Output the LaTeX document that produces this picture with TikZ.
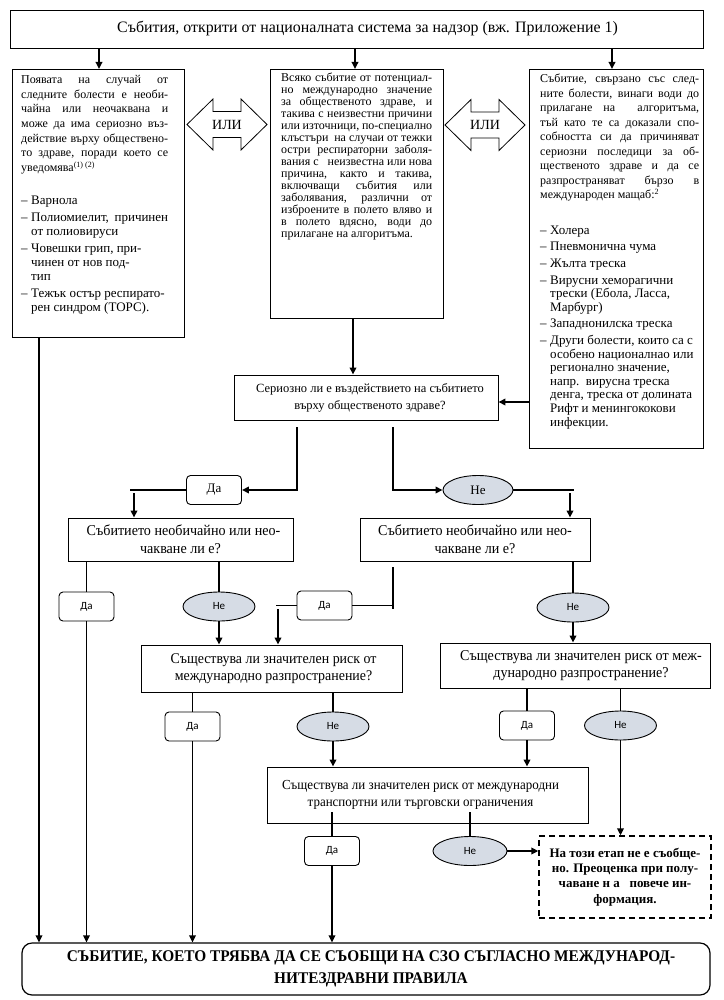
\documentclass[tikz,border=0pt]{standalone}
\usepackage{fontspec}
\setmainfont{Liberation Serif}
\newfontfamily\cond[FakeStretch=0.94]{Liberation Serif}
\newfontfamily\sanslbl{Carlito}
\usetikzlibrary{arrows.meta,calc,shapes.geometric}
\definecolor{negray}{RGB}{214,220,229}
\newcommand\jl[1]{\hbox to\hsize{\spaceskip=0pt\xspaceskip=0pt #1}}
\newcommand\rl[1]{\hbox{#1}}
\newcommand\dl{\hbox to 10pt{–\hss}}
\newcommand\ind{\kern10pt}
\tikzset{
  box/.style={draw, line width=0.9pt, fill=white, inner sep=0pt},
  tx/.style={anchor=north west, inner sep=0pt, text width=#1, align=justify},
  ln/.style={line width=1.7pt},
  arr/.style={line width=1.7pt, -{Triangle[length=7pt,width=6.5pt]}},
  dabox/.style={draw, line width=0.9pt, fill=white, rounded corners=4pt, minimum width=55pt, minimum height=29pt, inner sep=0pt, font=\fontsize{11}{13}\selectfont\sanslbl},
  nebox/.style={ellipse, draw, fill=negray, line width=0.9pt, minimum width=72pt, minimum height=29pt, inner sep=0pt, font=\fontsize{11}{13}\selectfont\sanslbl},
  qtext/.style={align=center, font=\fontsize{14.8}{17}\selectfont\cond},
}
\begin{document}
\begin{tikzpicture}[x=1pt,y=-1pt]
\useasboundingbox (0,0) rectangle (723,1000);
% title
\node[box, minimum width=693pt, minimum height=38pt, font=\fontsize{15.9}{18}\selectfont] (title) at (356.5,29) {\hspace*{22pt}Събития, открити от националната система за надзор (вж. Приложение 1)};
% three boxes
\node[box, minimum width=172pt, minimum height=268pt, anchor=north west] (lb) at (12,69) {};
\node[box, minimum width=173pt, minimum height=249pt, anchor=north west] (mb) at (270,69) {};
\node[box, minimum width=174pt, minimum height=379pt, anchor=north west] (rb) at (529,69) {};
\node[tx=147pt] (lbt) at (21,75) {\fontsize{12}{14.7}\selectfont
\jl{Появата на случай от}
\jl{следните болести е необи-}
\jl{чайна или неочаквана и}
\jl{може да има сериозно въз-}
\jl{действие върху обществено-}
\jl{то здраве, поради което се}
\rl{уведомява\textsuperscript{(1) (2)}}
\vskip 19pt\fontsize{13}{14}\selectfont
\rl{\dl Варнола}
\vskip3pt
\jl{\dl Полиомиелит, причинен}
\rl{\ind от полиовируси}
\vskip3pt
\rl{\dl Човешки грип, при-}
\rl{\ind чинен от нов под-}
\rl{\ind тип}
\vskip3pt
\rl{\dl Тежък остър респирато-}
\rl{\ind рен синдром (ТОРС).}
};
\node[tx=151pt] (mbt) at (281,73) {\fontsize{12}{15}\selectfont
\jl{Всяко събитие от потенциал-}
\jl{но международно значение}
\jl{за общественото здраве, и}
\jl{такива с неизвестни причини}
\jl{или източници, по-специално}
\jl{клъстъри\ \ на случаи от тежки}
\jl{остри респираторни заболя-}
\jl{вания с\ \ \ неизвестна или нова}
\jl{причина, както и такива,}
\jl{включващи събития или}
\jl{заболявания, различни от}
\jl{изброените в полето вляво и}
\jl{в полето вдясно, води до}
\rl{прилагане на алгоритъма.}
};
\node[tx=159pt] (rbt) at (540,74) {\fontsize{12}{14.5}\selectfont
\jl{Събитие, свързано със след-}
\jl{ните болести, винаги води до}
\jl{прилагане на\ \ алгоритъма,}
\jl{тъй като те са доказали спо-}
\jl{собността си да причиняват}
\jl{сериозни последици за об-}
\jl{щественото здраве и да се}
\jl{разпространяват бързо в}
\rl{международен мащаб:\textsuperscript{2}}
\vskip 22pt\fontsize{13}{13.6}\selectfont
\rl{\dl Холера}
\vskip3pt
\rl{\dl Пневмонична чума}
\vskip3pt
\rl{\dl Жълта треска}
\vskip3pt
\rl{\dl Вирусни хеморагични}
\rl{\ind трески (Ебола, Ласса,}
\rl{\ind Марбург)}
\vskip3pt
\rl{\dl Западнонилска треска}
\vskip3pt
\rl{\dl Други болести, които са с}
\rl{\ind особено националнао или}
\rl{\ind регионално значение,}
\rl{\ind напр.\ \ вирусна треска}
\rl{\ind денга, треска от долината}
\rl{\ind Рифт и менингококови}
\rl{\ind инфекции.}
};
% OR arrows
\coordinate (o1) at (227,124.5);
\coordinate (o2) at (485,125);
\foreach \o in {o1,o2}{
\draw[line width=0.8pt, fill=white] (\o) ++(-40,0) -- ++(26,-25.5) -- ++(0,12.5) -- ++(28,0) -- ++(0,-12.5) -- ++(26,25.5) -- ++(-26,25.5) -- ++(0,-12.5) -- ++(-28,0) -- ++(0,12.5) -- cycle;
}
\node[font=\fontsize{14}{16}\selectfont] (ili1) at (o1) {ИЛИ};
\node[font=\fontsize{14}{16}\selectfont] (ili2) at (o2) {ИЛИ};
% question 1
\node[box, minimum width=264pt, minimum height=45pt, align=center, font=\fontsize{12.5}{17}\selectfont] (q1) at (366,397.5) {\hspace*{8pt}Сериозно ли е въздействието на събитието\\\hspace*{8pt}върху общественото здраве?};
\node[dabox, font=\fontsize{13}{15}\selectfont] (da1) at (214,490) {Да};
\node[nebox, font=\fontsize{13}{15}\selectfont, minimum width=70pt] (ne1) at (478,490) {Не};
% question 2
\node[box, minimum width=225pt, minimum height=43pt, qtext, font=\fontsize{15}{18}\selectfont\cond] (q2l) at (180.5,539.5) {\hspace*{6pt}Събитието необичайно или нео-\\чакване ли е?};
\node[box, minimum width=230pt, minimum height=43pt, qtext, font=\fontsize{15}{18}\selectfont\cond] (q2r) at (475,539.5) {Събитието необичайно или нео-\\чакване ли е?};
\node[dabox] (da2) at (86.5,606.5) {Да};
\node[nebox] (ne2) at (219,606.5) {Не};
\node[dabox] (da3) at (324.5,605.5) {Да};
\node[nebox] (ne3) at (573,607.5) {Не};
% question 3
\node[box, minimum width=261pt, minimum height=47pt, qtext] (q3l) at (271.5,668.5) {\hspace*{4pt}Съществува ли значителен риск от\\\hspace*{4pt}международно разпространение?};
\node[box, minimum width=270pt, minimum height=45pt, qtext, font=\fontsize{15}{17}\selectfont\cond] (q3r) at (575,665.5) {\hspace*{12pt}Съществува ли значителен риск от меж-\\\hspace*{12pt}дународно разпространение?};
\node[dabox] (da4) at (192.5,726.5) {Да};
\node[nebox] (ne4) at (333,726.5) {Не};
\node[dabox] (da5) at (527,725.5) {Да};
\node[nebox] (ne5) at (620.5,725.5) {Не};
% question 4
\node[box, minimum width=321pt, minimum height=56pt, qtext, font=\fontsize{13.8}{16.5}\selectfont\cond] (q4) at (427.5,795) {Съществува ли значителен риск от международни\hspace*{14pt}\\транспортни или търговски ограничения\hspace*{14pt}};
\node[dabox] (da6) at (332,851) {Да};
\node[nebox, minimum width=74pt] (ne6) at (470,851) {Не};
% dashed box
\node[box, dashed, dash pattern=on 6pt off 4pt, line width=1.3pt, minimum width=172pt, minimum height=82pt, align=center, font=\fontsize{13}{15.4}\selectfont\bfseries] (dsh) at (625,877) {На този етап не е съобще-\\но. Преоценка при полу-\\чаване н а\ \ \ повече ин-\\формация.};
% final box
\node[box, rounded corners=10pt, line width=1.2pt, minimum width=688pt, minimum height=52pt, align=center, font=\fontsize{16.3}{22}\selectfont\cond\bfseries] (fin) at (366,969) {\hspace*{10pt}СЪБИТИЕ, КОЕТО ТРЯБВА ДА СЕ СЪОБЩИ НА СЗО СЪГЛАСНО МЕЖДУНАРОД-\\\hspace*{10pt}НИТЕЗДРАВНИ ПРАВИЛА};
% helper coordinates
\coordinate (k1) at (99,0);
\coordinate (k2) at (355,0);
\coordinate (k3) at (612,0);
\coordinate (k4) at (39,0);
\coordinate (k5) at (353,0);
\coordinate (k6) at (0,402);
\coordinate (k7) at (297,427);
\coordinate (k8) at (393,427);
\coordinate (k9) at (130,0);
\coordinate (k10) at (134,493);
\coordinate (k11) at (574,0);
\coordinate (k12) at (570,493);
\coordinate (k13) at (393,567);
\coordinate (k14) at (393,609);
\coordinate (k15) at (276,0);
\coordinate (k16) at (278,609);
\coordinate (k17) at (0,812);
% connectors
\draw[arr] (title.south -| k1) -- (lb.north -| k1);
\draw[arr] (title.south -| k2) -- (mb.north -| k2);
\draw[arr] (title.south -| k3) -- (rb.north -| k3);
\draw[arr] (lb.south -| k4) -- (fin.north -| k4);
\draw[arr] (mb.south -| k5) -- (q1.north -| k5);
\draw[arr] (rb.west |- k6) -- (q1.east |- k6);
\draw[arr] (k7) |- (da1.east);
\draw[arr] (k8) |- (ne1.west);
\draw[ln] (da1.west) -- (da1.west -| k9);
\draw[arr] (k10) -- (q2l.north -| k10);
\draw[ln] (ne1.east) -- (ne1.east -| k11);
\draw[arr] (k12) -- (q2r.north -| k12);
\draw[ln] (q2l.south -| da2.north) -- (da2.north);
\draw[arr] (da2.south) -- (fin.north -| da2.south);
\draw[ln] (q2l.south -| ne2.north) -- (ne2.north);
\draw[arr] (ne2.south) -- (q3l.north -| ne2.south);
\draw[ln] (k13) -- (k14);
\draw[ln] (da3.east -| k13) -- (da3.east);
\draw[ln] (da3.west) -- (da3.west -| k15);
\draw[arr] (k16) -- (q3l.north -| k16);
\draw[ln] (q2r.south -| ne3.north) -- (ne3.north);
\draw[arr] (ne3.south) -- (q3r.north -| ne3.south);
\draw[ln] (q3l.south -| da4.north) -- (da4.north);
\draw[arr] (da4.south) -- (fin.north -| da4.south);
\draw[ln] (q3l.south -| ne4.north) -- (ne4.north);
\draw[arr] (ne4.south) -- (q4.north -| ne4.south);
\draw[ln] (q3r.south -| da5.north) -- (da5.north);
\draw[arr] (da5.south) -- (q4.north -| da5.south);
\draw[ln] (q3r.south -| ne5.north) -- (ne5.north);
\draw[arr] (ne5.south) -- (dsh.north -| ne5.south);
\draw[ln] (k17 -| da6.north) -- (da6.north);
\draw[arr] (da6.south) -- (fin.north -| da6.south);
\draw[ln] (k17 -| ne6.north) -- (ne6.north);
\draw[arr] (ne6.east) -- (dsh.west |- ne6.east);
\end{tikzpicture}
\end{document}
